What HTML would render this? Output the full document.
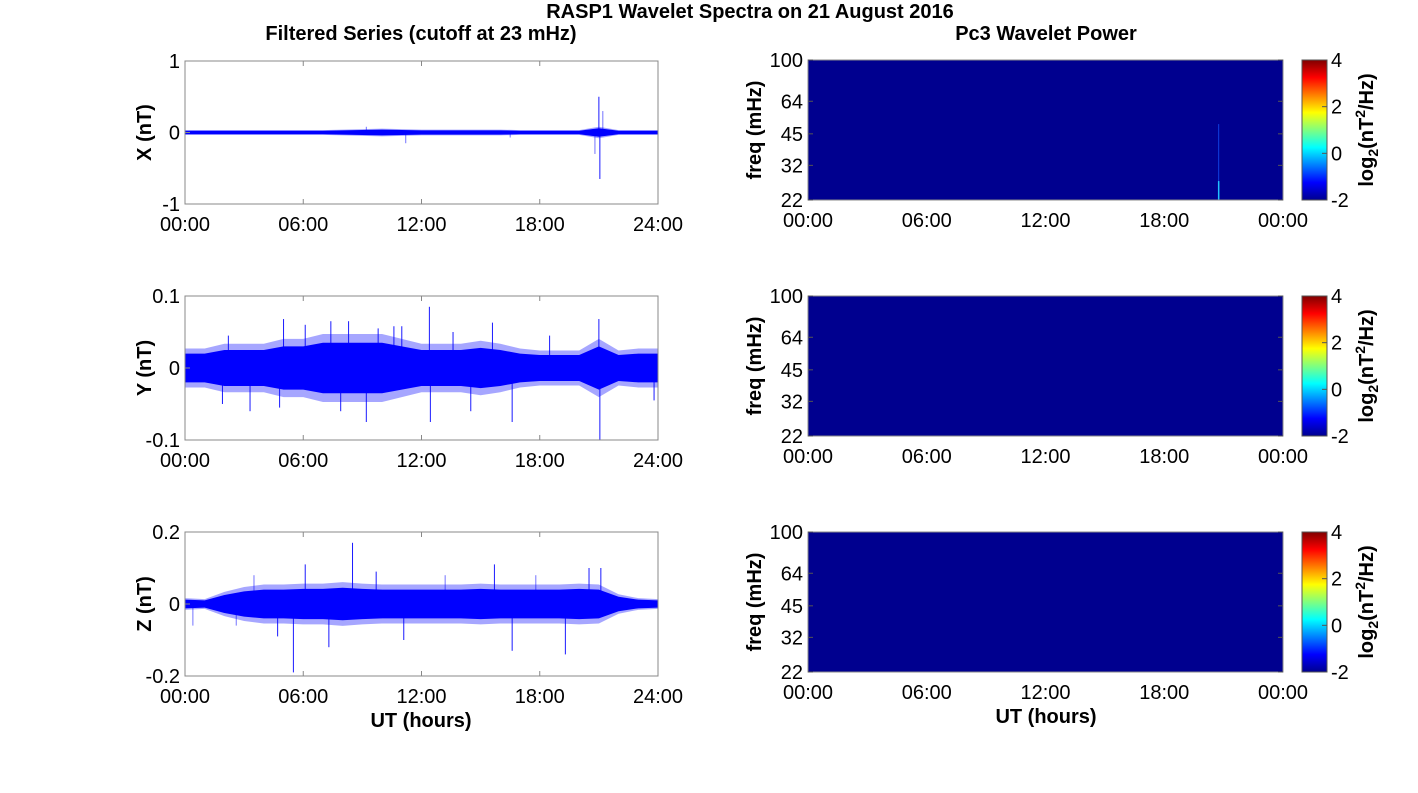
<!DOCTYPE html>
<html><head><meta charset="utf-8"><style>
body{margin:0;background:#fff;}
svg text{font-family:"Liberation Sans",Arial,sans-serif;fill:#000;}
</style></head><body>
<svg id="fig" width="1418" height="788" viewBox="0 0 1418 788" xmlns="http://www.w3.org/2000/svg">
<defs>
<linearGradient id="jet" x1="0" y1="1" x2="0" y2="0">
<stop offset="0" stop-color="#00008f"/><stop offset="0.125" stop-color="#0000ff"/>
<stop offset="0.375" stop-color="#00ffff"/><stop offset="0.625" stop-color="#ffff00"/>
<stop offset="0.875" stop-color="#ff0000"/><stop offset="1" stop-color="#800000"/>
</linearGradient>
</defs>
<text x="750" y="18" font-size="20" font-weight="bold" text-anchor="middle">RASP1 Wavelet Spectra on 21 August 2016</text>
<text x="421" y="40" font-size="20" font-weight="bold" text-anchor="middle">Filtered Series (cutoff at 23 mHz)</text>
<text x="1046" y="40" font-size="20" font-weight="bold" text-anchor="middle">Pc3 Wavelet Power</text>
<g id="plots"></g>
</svg>
<script>
const hours=[0,1,2,3,4,5,6,7,8,9,10,11,12,13,14,15,16,17,18,19,20,21,22,23,24];
const xEnv=[0.025,0.025,0.025,0.025,0.025,0.025,0.025,0.025,0.03,0.035,0.04,0.035,0.03,0.03,0.03,0.03,0.03,0.025,0.025,0.025,0.025,0.06,0.025,0.025,0.025];
const yEnv=[0.02,0.02,0.025,0.025,0.025,0.03,0.03,0.035,0.035,0.035,0.035,0.03,0.025,0.025,0.025,0.028,0.025,0.02,0.018,0.018,0.018,0.03,0.018,0.02,0.02];
const zEnv=[0.012,0.01,0.025,0.035,0.04,0.04,0.042,0.042,0.045,0.042,0.04,0.04,0.04,0.04,0.04,0.042,0.04,0.04,0.04,0.04,0.042,0.04,0.02,0.012,0.01];
const xSpikeT=[21.0,21.05,21.2,9.2,11.2,16.5,20.8];
const xSpikeV=[0.5,-0.65,0.3,0.08,-0.15,-0.07,-0.3];
const ySpikeT=[5.0,12.4,12.45,16.6,21.0,21.05,9.2,3.3,7.4,15.6,10.6,2.2,6.1,7.9,8.3,9.8,11.0,14.5,4.8,13.6,18.5,23.8,1.9];
const ySpikeV=[0.068,0.085,-0.075,-0.075,0.068,-0.1,-0.075,-0.06,0.065,0.063,0.058,0.045,0.06,-0.06,0.065,0.055,0.058,-0.06,-0.055,0.05,0.045,-0.045,-0.05];
const zSpikeT=[8.5,5.5,15.7,6.1,16.6,19.3,7.3,0.4,3.5,4.7,9.7,11.1,13.2,17.8,20.5,21.1,2.6];
const zSpikeV=[0.17,-0.19,0.11,0.11,-0.13,-0.14,-0.12,-0.06,0.08,-0.09,0.09,-0.1,0.08,0.08,0.1,0.1,-0.06];
const xTicks=[-1,0,1], xTickLabels=["-1","0","1"];
const yTicks=[-0.1,0,0.1], yTickLabels=["-0.1","0","0.1"];
const zTicks=[-0.2,0,0.2], zTickLabels=["-0.2","0","0.2"];
const timeTicks=[0,6,12,18,24];
const leftTimeLabels=["00:00","06:00","12:00","18:00","24:00"];
const rightTimeLabels=["00:00","06:00","12:00","18:00","00:00"];
const freqTicks=[22,32,45,64,100];
const cbTicks=[-2,0,2,4];
const pc3Spike=[20.75];

const NS="http://www.w3.org/2000/svg";
const root=document.getElementById('plots');
function mk(tag,attrs,parent){const e=document.createElementNS(NS,tag);for(const k in attrs)e.setAttribute(k,attrs[k]);(parent||root).appendChild(e);return e;}
function txt(x,y,s,size,anchor,parent,bold){const t=mk('text',{x:x,y:y,'font-size':size,'text-anchor':anchor||'middle'},parent);if(bold)t.setAttribute('font-weight','bold');t.textContent=s;return t;}

const L={x0:185,x1:658}, R={x0:808,x1:1283};
const rowsL=[[61,204],[296,440],[532,676]];
const rowsR=[[60,200],[296,436],[532,672]];
const series=[
 {env:xEnv,st:xSpikeT,sv:xSpikeV,ticks:xTicks,lab:xTickLabels,lim:1,name:'X (nT)',id:'x'},
 {env:yEnv,st:ySpikeT,sv:ySpikeV,ticks:yTicks,lab:yTickLabels,lim:0.1,name:'Y (nT)',id:'y'},
 {env:zEnv,st:zSpikeT,sv:zSpikeV,ticks:zTicks,lab:zTickLabels,lim:0.2,name:'Z (nT)',id:'z'}];

series.forEach((s,i)=>{
 const [t0,b0]=rowsL[i];
 const g=mk('g',{});
 
 
 const sx=h=>L.x0+(L.x1-L.x0)*h/24;
 const sy=v=>(t0+b0)/2-(b0-t0)/2*v/s.lim;
 let up=hours.map((h,k)=>sx(h)+','+sy(s.env[k]*1.35)).join(' ');
 let dn=hours.slice().reverse().map((h,k)=>sx(h)+','+sy(-s.env[24-k]*1.35)).join(' ');
 const f=mk('polygon',{points:up+' '+dn,fill:'#0000ff','fill-opacity':0.35},g);
 
 
 up=hours.map((h,k)=>sx(h)+','+sy(s.env[k])).join(' ');
 dn=hours.slice().reverse().map((h,k)=>sx(h)+','+sy(-s.env[24-k])).join(' ');
 const p=mk('polygon',{points:up+' '+dn,fill:'#0000ff'},g);
 
 
 s.st.forEach((t,k)=>{
  const l=mk('line',{x1:sx(t),x2:sx(t),y1:sy(0),y2:sy(s.sv[k]),stroke:'#0000ff','stroke-width':1,'stroke-opacity':Math.abs(s.sv[k])>s.lim*0.4?0.9:0.55},g);
  
  
 });
 mk('rect',{x:L.x0,y:t0,width:L.x1-L.x0,height:b0-t0,fill:'none',stroke:'#888','stroke-width':1},g);
 timeTicks.forEach((h,k)=>{
  mk('line',{x1:sx(h),x2:sx(h),y1:b0,y2:b0-5,stroke:'#888'},g);
  mk('line',{x1:sx(h),x2:sx(h),y1:t0,y2:t0+5,stroke:'#888'},g);
  const t=txt(sx(h),b0+27,leftTimeLabels[k],20,'middle',g);
  
  
 });
 s.ticks.forEach((v,k)=>{
  mk('line',{x1:L.x0,x2:L.x0+5,y1:sy(v),y2:sy(v),stroke:'#888'},g);
  const t=txt(L.x0-5,sy(v)+7,s.lab[k],20,'end',g);
  
  
 });
 const yl=txt(0,0,s.name,20,'middle',g,true);
 yl.setAttribute('transform','translate(151,'+((t0+b0)/2)+') rotate(-90)');
 
 
});
const ut1=txt(421,727,'UT (hours)',20,'middle',root,true);



rowsR.forEach(([t0,b0],i)=>{
 const g=mk('g',{});
 
 
 const sx=h=>R.x0+(R.x1-R.x0)*h/24;
 const fy=f=>b0-(b0-t0)*Math.log(f/22)/Math.log(100/22);
 const r=mk('rect',{x:R.x0,y:t0,width:R.x1-R.x0,height:b0-t0,fill:'#00008f'},g);
 
 
 if(i===0){pc3Spike.forEach(h=>{
  const l1=mk('line',{x1:sx(h),x2:sx(h),y1:fy(50),y2:b0,stroke:'#1040e0','stroke-width':1},g);
  
  
  const l2=mk('line',{x1:sx(h),x2:sx(h),y1:fy(27),y2:b0,stroke:'#20c0ff','stroke-width':1.5},g);
  
  
 });}
 mk('rect',{x:R.x0,y:t0,width:R.x1-R.x0,height:b0-t0,fill:'none',stroke:'#888'},g);
 timeTicks.forEach((h,k)=>{
  const t=txt(sx(h),b0+27,rightTimeLabels[k],20,'middle',g);
  
  
 });
 freqTicks.forEach(f=>{
  mk('line',{x1:R.x0,x2:R.x0+5,y1:fy(f),y2:fy(f),stroke:'#555'},g);
  mk('line',{x1:R.x1,x2:R.x1-5,y1:fy(f),y2:fy(f),stroke:'#555'},g);
  const t=txt(R.x0-5,fy(f)+7,String(f),20,'end',g);
  
  
 });
 const yl=txt(0,0,'freq (mHz)',20,'middle',g,true);
 yl.setAttribute('transform','translate(761,'+((t0+b0)/2)+') rotate(-90)');
 
 
 const cb=mk('rect',{x:1302,y:t0,width:25,height:b0-t0,fill:'url(#jet)',stroke:'#555'},g);
 
 
 const cy=v=>b0-(b0-t0)*(v+2)/6;
 cbTicks.forEach(v=>{
  mk('line',{x1:1322,x2:1327,y1:cy(v),y2:cy(v),stroke:'#555'},g);
  const t=txt(1331,cy(v)+7,String(v),20,'start',g);
  
  
 });
 const cl=mk('text',{'font-size':20,'font-weight':'bold','text-anchor':'middle',transform:'translate(1373,'+((t0+b0)/2)+') rotate(-90)'},g);
 
 
 cl.innerHTML='log<tspan font-size="14" dy="5">2</tspan><tspan dy="-5">(nT</tspan><tspan font-size="14" dy="-8">2</tspan><tspan dy="8">/Hz)</tspan>';
});
const ut2=txt(1046,723,'UT (hours)',20,'middle',root,true);


</script>
</body></html>
